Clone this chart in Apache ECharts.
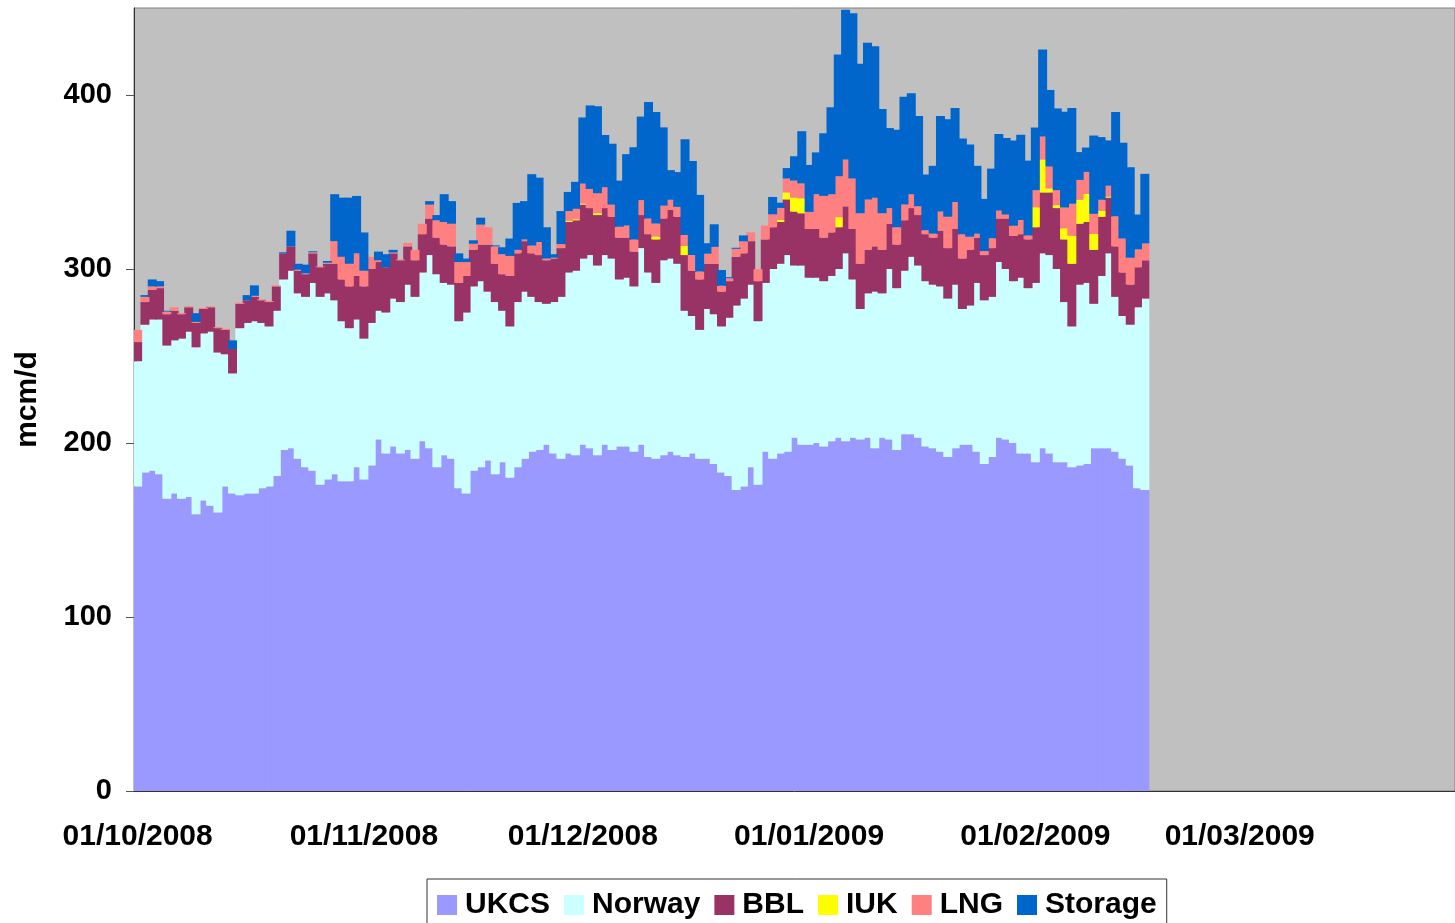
<!DOCTYPE html>
<html>
	<head>
		<meta charset="UTF-8">
		<title>Gas supply</title>
		<script src="https://cdn.jsdelivr.net/npm/echarts@6/dist/echarts.min.js"></script>
		<style>
			html, body { margin: 0; padding: 0; background: #fff; }
		</style>
	</head>
	<body>
		<div id="main" style="width: 1455px; height: 923px;"></div>
		<script type="text/javascript">
			// axis: daily categories 01/10/2008 .. 30/03/2009
			var startDay = Date.UTC(2008, 9, 1);
			var dayCount = 181;
			var yTicks = [0, 100, 200, 300, 400];

			// mcm/d, one value per day from 01/10/2008 (Oct, Nov, Dec, Jan, Feb rows)
			var ukcs = [
				175,183,184,182,168,171,168,169,159,167,164,160,175,171,170,171,171,174,175,181,196,197,191,186,184,176,179,182,178,178,186,
				179,187,202,194,198,194,196,191,201,197,186,193,191,174,171,184,186,190,182,189,180,186,191,195,196,199,194,191,194,193,
				199,197,193,199,196,198,198,195,199,192,191,193,195,193,192,194,191,191,188,183,181,173,175,186,176,195,191,194,195,203,199,
				199,200,198,201,203,201,203,202,203,197,203,202,196,205,205,203,198,197,195,192,197,199,199,195,188,192,203,202,200,194,194,
				189,197,194,189,189,186,187,188,197,197,197,195,191,187,174,173
			];
			var norway = [
				72,85,87,89,88,88,92,95,96,96,100,92,76,69,96,98,99,95,92,95,98,102,95,98,108,108,107,100,92,88,85,
				81,82,74,81,85,87,95,93,97,111,111,99,100,96,104,106,107,97,99,87,87,95,96,89,85,81,87,93,104,106,
				107,111,109,109,110,96,97,95,113,106,101,112,111,110,84,79,74,86,86,84,91,106,108,105,94,97,109,109,113,99,103,
				96,95,95,95,97,108,91,75,83,90,83,98,93,94,102,99,95,94,95,91,94,78,80,97,94,92,101,98,93,101,95,
				103,112,114,111,92,81,104,104,83,99,112,89,82,81,104,110
			];
			var bbl = [
				11,13,17,18,18,17,14,14,14,14,14,14,14,14,14,13,14,13,14,14,15,14,13,13,17,17,17,21,24,24,25,
				30,31,28,26,26,24,22,21,22,21,21,22,22,22,21,21,21,27,22,21,29,28,29,25,27,25,25,28,29,29,
				31,27,29,27,24,24,23,20,19,22,25,24,28,27,32,26,29,26,29,20,21,28,26,25,23,25,24,24,32,31,30,
				28,28,25,25,24,27,29,26,25,26,25,26,25,29,28,29,27,27,32,29,32,29,32,26,26,28,25,29,26,25,28,
				32,35,36,35,36,36,35,35,31,34,32,29,25,23,23,22
			];
			var iuk = [
				0,0,0,0,0,0,0,0,0,0,0,0,0,0,0,0,0,0,0,0,0,0,0,0,0,0,0,0,0,0,0,
				0,0,0,0,0,0,0,0,0,0,0,0,0,0,0,0,0,0,0,0,0,0,0,0,0,0,0,0,0.7,0.6,
				0.6,0,1.1,0,0,0,0,0,0,0,1.7,0,0,0,5.2,0,0,0,0,0,0,0,0,0,0,0,0,1.2,4,8,8.6,
				0,0,0,0,5.8,0,0,0,0,0,0,0,0,0,0,0,0,0,0,0,0,0,0,0,0,0,0,0,0,0,0,
				11.5,18.9,2.3,1.7,6.4,16.1,13.8,16.1,9.2,3.4,0.6,0,0,0,0,0
			];
			var lng = [
				7,3,2,1,1.5,2,0.6,0.6,0.6,0.6,0.5,0.6,0.6,0,0.6,0,0.6,0.6,0.6,0.6,0,0,0.6,0.5,0.6,0.5,0.6,13,13,13,13,
				9,7,1,0,0.5,0.5,2,6,6,8,10,13,13,12,8,3.5,11.5,10,10,11.5,11.5,2,1,4.5,7.5,1,0.5,2.3,5.6,6,
				11.5,11,11.5,12,7,6.3,7,7,8.6,9,7.5,7.4,5.8,5.7,6.3,9.1,4.6,5.8,9.7,3.4,1.7,4.6,6.9,5.1,6.9,8,7.4,6.9,8,9.8,8.6,
				9.8,20,24,22,23.5,27,29,29,29,28,21,9,10,9,8,5,2.3,2.3,11,18,15.5,14,7.5,2.3,2.3,5.7,4.6,2.3,5.8,8.1,2.3,
				9.8,13.3,12.6,8.6,12,18.4,11.4,12.7,11.5,6.4,6.3,17.3,19.5,15.5,10.3,9.7
			];
			var storage = [
				0,1,4,3,0.5,0,0,0,5,0,0,0,0,5,0,3,6,0,0,0,0.6,9,3.4,5,0.6,0,1,27,34,38,33,
				22,0,5,7.5,1.5,0,0,0,0,2,3,16,13,5,2,2,4,0,0.6,4,10,27,22,41,37,18,2,19,11,15.5,
				38,48,50,30,35,26.5,41,53,48,67,64,45,17,20,55,54,44,6,13,9,0.6,0.6,3.4,0,0,0,10,3,6,14,30,
				27,24,36,50,70,86,95,86,90,87,60,46,56,62,58,52,32,39,55,56,54,55,53,39,30,40,44,44,49,49,43,
				36,50,44,47,55,55,16,14,45,36,26,60,55,52,20,40
			];

			var names = ['UKCS', 'Norway', 'BBL', 'IUK', 'LNG', 'Storage'];
			var colors = ['#9999FF', '#CCFFFF', '#993366', '#FFFF00', '#FF8080', '#0066CC'];
			var values = [ukcs, norway, bbl, iuk, lng, storage];

			function pad(n) {
				return n < 10 ? '0' + n : '' + n;
			}
			var dates = [];
			for(var i = 0; i < dayCount; i++) {
				var d = new Date(startDay + i * 86400000);
				dates.push(pad(d.getUTCDate()) + '/' + pad(d.getUTCMonth() + 1) + '/' + d.getUTCFullYear());
			}
			function isMonthStart(idx, val) {
				return val.substring(0, 3) === '01/';
			}

			var font = 'Liberation Sans, Arial, sans-serif';
			var series = [];
			for(var k = 0; k < names.length; k++) {
				series.push({
					name: names[k],
					type: 'bar',
					stack: 'supply',
					// a bit wider than the band so neighbouring days leave no seams
					barWidth: 9,
					itemStyle: { color: colors[k] },
					data: values[k]
				});
			}

			var myChart = echarts.init(document.getElementById('main'));
			myChart.setOption({
				animation: false,
				color: colors,
				grid: {
					show: true,
					left: 134,
					right: 0,
					top: 8,
					bottom: 132,
					backgroundColor: '#C0C0C0',
					borderColor: '#808080',
					borderWidth: 1
				},
				legend: {
					left: 427,
					top: 879,
					padding: [11, 10, 30, 10],
					borderColor: '#333',
					borderWidth: 1,
					icon: 'rect',
					itemWidth: 20,
					itemHeight: 20,
					itemGap: 14,
					textStyle: {
						fontFamily: font,
						fontSize: 30,
						fontWeight: 'bold',
						color: '#000',
						padding: [0, 0, 0, 3]
					},
					data: names
				},
				xAxis: {
					type: 'category',
					data: dates,
					boundaryGap: true,
					axisLine: { lineStyle: { color: '#333', width: 1 } },
					axisTick: { interval: isMonthStart, length: 9, lineStyle: { color: '#555' } },
					axisLabel: {
						interval: isMonthStart,
						margin: 31,
						fontFamily: font,
						fontSize: 30,
						fontWeight: 'bold',
						color: '#000'
					},
					splitLine: { show: false }
				},
				yAxis: {
					type: 'value',
					min: 0,
					max: 450,
					interval: 100,
					name: 'mcm/d',
					nameLocation: 'middle',
					nameGap: 91,
					nameTextStyle: { fontFamily: font, fontSize: 30, fontWeight: 'bold', color: '#000' },
					axisLine: { show: true, lineStyle: { color: '#333', width: 1 } },
					axisTick: { show: true, length: 8, customValues: yTicks, lineStyle: { color: '#555' } },
					axisLabel: {
						customValues: yTicks,
						margin: 22,
						fontFamily: font,
						fontSize: 29,
						fontWeight: 'bold',
						color: '#000'
					},
					splitLine: { show: false }
				},
				series: series
			});
		</script>
	</body>
</html>
